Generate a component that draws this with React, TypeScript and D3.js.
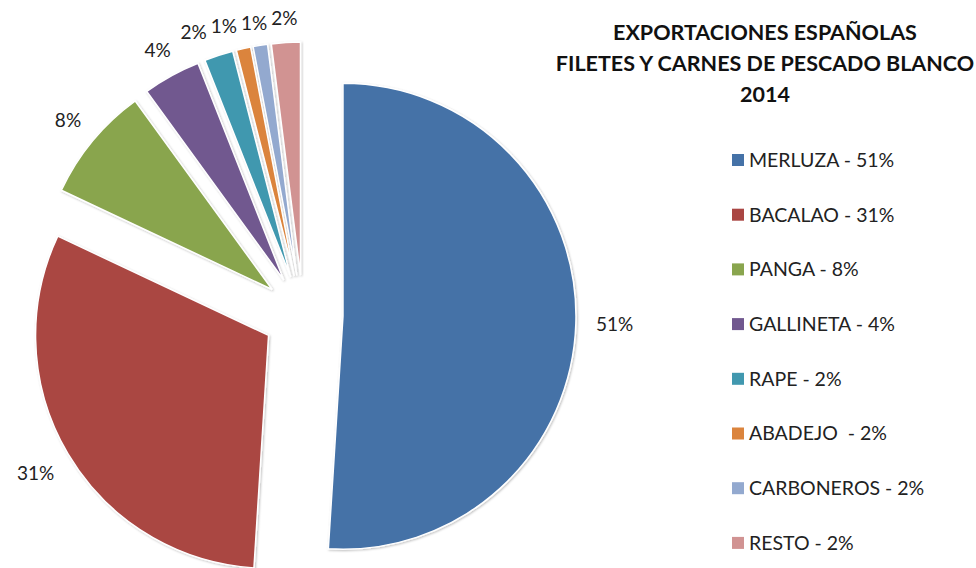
import React, { useEffect, useRef } from 'react';
import * as d3 from 'd3';

const categories = ['MERLUZA', 'BACALAO', 'PANGA', 'GALLINETA', 'RAPE', 'ABADEJO', 'CARBONEROS', 'RESTO'];
const shares = [51, 31, 8, 4, 2, 1, 1, 2];
const sliceLabels = ['51%', '31%', '8%', '4%', '2%', '1%', '1%', '2%'];
const legendLabels = [
  'MERLUZA - 51%',
  'BACALAO - 31%',
  'PANGA - 8%',
  'GALLINETA - 4%',
  'RAPE - 2%',
  'ABADEJO  - 2%',
  'CARBONEROS - 2%',
  'RESTO - 2%',
];
const colors = ['#4572A7', '#AA4643', '#89A54E', '#71588F', '#4198AF', '#DB843D', '#93A9CF', '#D19392'];
const titleLines = ['EXPORTACIONES ESPAÑOLAS', 'FILETES Y CARNES DE PESCADO BLANCO', '2014'];

const App = () => {
  const chartRef = useRef<SVGSVGElement>(null);

  useEffect(() => {
    const svg = d3.select(chartRef.current);
    svg.selectAll('*').remove();

    const cx = 303;
    const cy = 315;
    const radius = 233;
    const explode = 40;
    const font = 'Lato, "Open Sans", sans-serif';

    const defs = svg.append('defs');
    const filter = defs
      .append('filter')
      .attr('id', 'shadow')
      .attr('x', '-10%')
      .attr('y', '-10%')
      .attr('width', '120%')
      .attr('height', '120%');
    filter
      .append('feDropShadow')
      .attr('dx', 1)
      .attr('dy', 1)
      .attr('stdDeviation', 1.2)
      .attr('flood-color', '#000')
      .attr('flood-opacity', 0.25);

    const data = categories.map((name, i) => ({ name, value: shares[i], label: sliceLabels[i], color: colors[i] }));

    const pie = d3.pie<any>().sort(null).value((d) => d.value);
    const arc = d3.arc<any>().innerRadius(0).outerRadius(radius);
    const arcs = pie(data);

    const root = svg.append('g').attr('transform', `translate(${cx},${cy})`);

    const mid = (d: any) => (d.startAngle + d.endAngle) / 2;

    root
      .selectAll('.slice')
      .data(arcs)
      .enter()
      .append('path')
      .attr('class', 'slice')
      .attr('transform', (d) => `translate(${Math.sin(mid(d)) * explode},${-Math.cos(mid(d)) * explode})`)
      .attr('d', arc)
      .attr('fill', (d) => d.data.color)
      .attr('stroke', '#fff')
      .attr('stroke-width', 1.5)
      .attr('filter', 'url(#shadow)');

    // data labels, placed just outside each slice (best fit style)
    const labels = root
      .selectAll('.lbl')
      .data(arcs)
      .enter()
      .append('text')
      .attr('class', 'lbl')
      .attr('text-anchor', 'middle')
      .attr('dy', '0.35em')
      .style('font-family', font)
      .style('font-size', '19px')
      .attr('fill', '#222')
      .text((d) => d.data.label);

    const gap = 20;
    const pos: { x: number; y: number; w: number }[] = [];
    labels.each(function (d) {
      const w = (this as SVGTextElement).getComputedTextLength();
      const a = mid(d);
      const s = Math.sin(a);
      const c = -Math.cos(a);
      const dist = explode + radius + gap + Math.abs(s) * (w / 2) + Math.abs(c) * 3;
      pos.push({ x: s * dist, y: c * dist, w });
    });

    // push the crowded top labels apart, right to left
    for (let i = pos.length - 2; i >= 2; i--) {
      const right = pos[i + 1];
      const cur = pos[i];
      const minGap = right.w / 2 + cur.w / 2 + 4;
      if (right.x - cur.x < minGap) {
        cur.x = right.x - minGap;
        cur.y += 3;
      }
    }

    labels.attr('x', (d, i) => pos[i].x).attr('y', (d, i) => pos[i].y);

    // title
    svg
      .append('g')
      .selectAll('text')
      .data(titleLines)
      .enter()
      .append('text')
      .attr('x', 765)
      .attr('y', (d, i) => 40 + i * 31)
      .attr('text-anchor', 'middle')
      .style('font-family', font)
      .style('font-weight', 'bold')
      .style('font-size', '21.5px')
      .attr('fill', '#111')
      .text((d) => d);

    // legend
    const legend = svg
      .selectAll('.legend')
      .data(legendLabels)
      .enter()
      .append('g')
      .attr('class', 'legend')
      .attr('transform', (d, i) => `translate(732,${160 + i * 54.7})`);

    legend
      .append('rect')
      .attr('x', 0)
      .attr('y', -6)
      .attr('width', 12)
      .attr('height', 12)
      .attr('fill', (d, i) => colors[i]);

    legend
      .append('text')
      .attr('x', 17)
      .attr('y', 0)
      .attr('dy', '0.35em')
      .style('font-family', font)
      .style('font-size', '19.5px')
      .style('white-space', 'pre')
      .attr('fill', '#222')
      .text((d) => d);
  }, []);

  return (
    <svg
      ref={chartRef}
      width={976}
      height={568}
      style={{ position: 'absolute', left: 0, top: 0, background: '#fff' }}
    ></svg>
  );
};

export default App;
